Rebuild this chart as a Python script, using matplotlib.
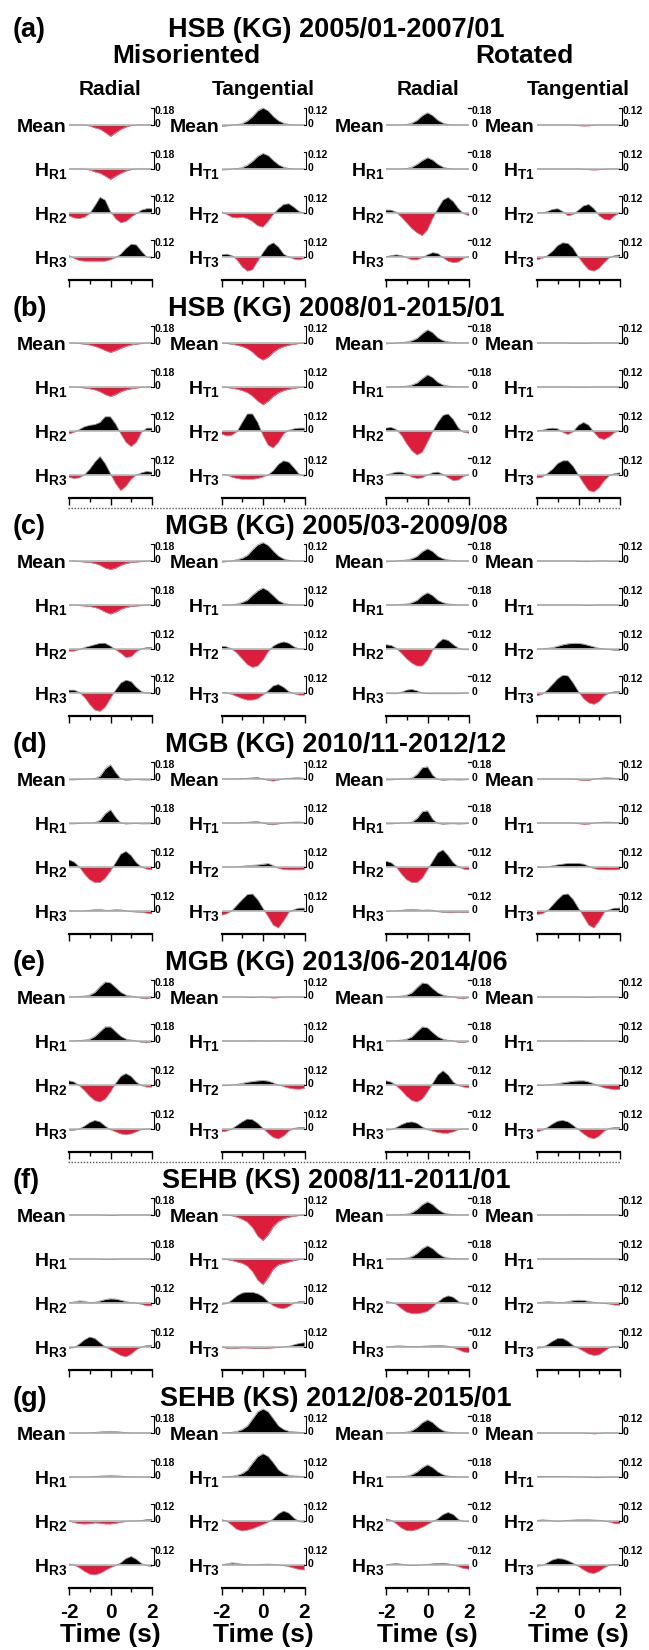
import numpy as np
import matplotlib.pyplot as plt
from matplotlib.lines import Line2D

plt.rcParams['font.family'] = ['Liberation Sans', 'DejaVu Sans']
plt.rcParams['mathtext.fontset'] = 'custom'
plt.rcParams['mathtext.rm'] = 'Liberation Sans:bold'
plt.rcParams['mathtext.it'] = 'Liberation Sans:bold'
plt.rcParams['mathtext.bf'] = 'Liberation Sans:bold'

# time samples (s)
t_sec = [-2.0, -1.75, -1.5, -1.25, -1.0, -0.75, -0.5, -0.25, 0.0,
         0.25, 0.5, 0.75, 1.0, 1.25, 1.5, 1.75, 2.0]

panel_tags = ['(a)', '(b)', '(c)', '(d)', '(e)', '(f)', '(g)']
panel_titles = ['HSB (KG) 2005/01-2007/01', 'HSB (KG) 2008/01-2015/01',
                'MGB (KG) 2005/03-2009/08', 'MGB (KG) 2010/11-2012/12',
                'MGB (KG) 2013/06-2014/06', 'SEHB (KS) 2008/11-2011/01',
                'SEHB (KS) 2012/08-2015/01']
group_names = ['Misoriented', 'Rotated']
comp_names = ['Radial', 'Tangential', 'Radial', 'Tangential']
row_names_r = ['Mean', r'$\mathrm{H_{R1}}$', r'$\mathrm{H_{R2}}$', r'$\mathrm{H_{R3}}$']
row_names_t = ['Mean', r'$\mathrm{H_{T1}}$', r'$\mathrm{H_{T2}}$', r'$\mathrm{H_{T3}}$']
bar_radial = [0.18, 0.18, 0.12, 0.12]
bar_tang = [0.12, 0.12, 0.12, 0.12]
time_ticks = [-2, 0, 2]

# rows: Mean, H1, H2, H3 ; mr = misoriented radial, mt = misoriented tangential,
# rr = rotated radial, rt = rotated tangential
a_mr = [[0, 0, 0, 0, -0.01, -0.03, -0.045, -0.08, -0.12, -0.08, -0.045, -0.02, -0.005, 0, 0, 0, 0],
        [0, 0, 0, 0, -0.01, -0.03, -0.045, -0.075, -0.11, -0.075, -0.045, -0.02, -0.005, 0, 0, 0, 0],
        [-0.02, -0.035, -0.04, -0.03, -0.005, 0.05, 0.11, 0.09, 0.01, -0.04, -0.07, -0.06, -0.03, -0.005, 0.02, 0.03, 0.03],
        [0.01, -0.01, -0.025, -0.03, -0.03, -0.03, -0.03, -0.03, -0.02, -0.005, 0.02, 0.06, 0.09, 0.085, 0.04, 0.0, -0.01]]
a_mt = [[-0.01, -0.008, 0, 0.003, 0.01, 0.03, 0.06, 0.1, 0.12, 0.1, 0.06, 0.03, 0.012, 0.004, 0, 0, 0],
        [-0.008, -0.006, 0, 0.003, 0.01, 0.028, 0.055, 0.09, 0.11, 0.095, 0.06, 0.03, 0.012, 0.004, 0, 0, 0],
        [0.01, -0.01, -0.03, -0.035, -0.03, -0.04, -0.06, -0.09, -0.1, -0.06, -0.01, 0.03, 0.06, 0.065, 0.04, 0.01, 0.0],
        [0.015, 0.02, 0.01, -0.02, -0.07, -0.1, -0.09, -0.03, 0.03, 0.08, 0.1, 0.07, 0.02, 0.0, -0.015, -0.02, -0.01]]
a_rr = [[0, 0, 0, 0, 0.005, 0.02, 0.05, 0.1, 0.13, 0.1, 0.05, 0.02, 0.005, 0, 0, 0, 0],
        [0, 0, 0, 0, 0.005, 0.02, 0.05, 0.09, 0.12, 0.095, 0.05, 0.02, 0.005, 0, 0, 0, 0],
        [0.02, 0.02, 0.005, -0.03, -0.07, -0.11, -0.14, -0.16, -0.12, -0.04, 0.03, 0.09, 0.11, 0.08, 0.03, -0.005, -0.02],
        [0, 0.01, 0.015, 0.01, -0.005, -0.02, -0.02, -0.005, 0.015, 0.03, 0.025, -0.005, -0.03, -0.04, -0.035, -0.01, 0.005]]
a_rt = [[0, 0, 0, 0, 0, 0, 0, -0.002, -0.004, -0.006, -0.005, -0.002, 0, 0, 0, 0, 0],
        [0, 0, 0, 0, 0, 0, 0, 0, 0, -0.002, -0.004, -0.006, -0.004, -0.002, 0, 0, 0],
        [0, 0.0, 0.01, 0.025, 0.03, 0.01, -0.02, -0.01, 0.02, 0.05, 0.06, 0.03, -0.02, -0.045, -0.05, -0.02, 0.0],
        [-0.02, -0.01, 0.01, 0.04, 0.08, 0.1, 0.095, 0.06, 0.0, -0.05, -0.09, -0.1, -0.08, -0.04, -0.005, 0.01, 0.015]]

b_mr = [[0, 0, -0.005, -0.012, -0.02, -0.035, -0.055, -0.08, -0.1, -0.08, -0.055, -0.035, -0.02, -0.012, -0.005, 0, 0],
        [0, 0, -0.003, -0.01, -0.018, -0.03, -0.05, -0.08, -0.1, -0.08, -0.05, -0.03, -0.018, -0.01, -0.003, 0, 0],
        [-0.02, -0.01, 0.01, 0.03, 0.04, 0.045, 0.06, 0.1, 0.1, 0.05, -0.02, -0.08, -0.11, -0.08, -0.01, 0.02, 0.02],
        [-0.015, -0.025, -0.02, 0.0, 0.04, 0.09, 0.13, 0.08, 0.01, -0.06, -0.11, -0.08, -0.03, 0.0, 0.015, 0.025, 0.02]]
b_mt = [[0, -0.003, -0.008, -0.015, -0.025, -0.04, -0.065, -0.1, -0.12, -0.1, -0.065, -0.04, -0.025, -0.015, -0.008, -0.003, 0],
        [0, -0.003, -0.008, -0.015, -0.025, -0.04, -0.065, -0.1, -0.125, -0.1, -0.065, -0.04, -0.025, -0.015, -0.008, -0.003, 0],
        [-0.02, -0.035, -0.03, -0.005, 0.06, 0.12, 0.12, 0.06, -0.03, -0.1, -0.12, -0.08, -0.02, 0.005, 0.015, 0.02, 0.02],
        [0.005, 0.0, -0.015, -0.025, -0.03, -0.03, -0.03, -0.025, -0.015, 0.0, 0.03, 0.075, 0.1, 0.09, 0.05, 0.005, -0.01]]
b_rr = [[-0.01, -0.005, 0, 0.005, 0.012, 0.025, 0.05, 0.1, 0.14, 0.11, 0.055, 0.025, 0.012, 0.005, 0, 0, 0],
        [0, 0, 0, 0.004, 0.01, 0.022, 0.045, 0.09, 0.13, 0.1, 0.05, 0.022, 0.01, 0.004, 0, 0, 0],
        [0.02, 0.025, 0.01, -0.03, -0.09, -0.14, -0.17, -0.15, -0.08, -0.005, 0.06, 0.11, 0.12, 0.08, 0.02, -0.01, -0.015],
        [0.0, 0.01, 0.02, 0.02, 0.005, -0.015, -0.025, -0.02, 0.0, 0.015, 0.02, 0.005, -0.02, -0.04, -0.035, -0.01, 0.0]]
b_rt = [[0, 0, 0, 0, 0, 0, -0.001, -0.002, -0.002, -0.002, -0.001, 0, 0, 0, 0, 0, 0],
        [0, 0, 0, 0, 0, 0, 0, -0.001, -0.002, -0.002, -0.001, 0, 0, 0, 0, 0, 0],
        [0, 0.005, 0.015, 0.02, 0.015, -0.01, -0.025, -0.005, 0.04, 0.06, 0.04, -0.01, -0.05, -0.06, -0.04, -0.01, 0.0],
        [-0.02, -0.015, 0.01, 0.04, 0.08, 0.1, 0.1, 0.06, 0.0, -0.06, -0.11, -0.12, -0.09, -0.04, -0.005, 0.01, 0.015]]

c_mr = [[0, 0, -0.005, -0.01, -0.015, -0.025, -0.045, -0.075, -0.09, -0.075, -0.045, -0.025, -0.015, -0.01, -0.005, 0, 0],
        [0, 0, -0.005, -0.01, -0.015, -0.025, -0.045, -0.075, -0.095, -0.075, -0.045, -0.025, -0.015, -0.01, -0.005, 0, 0],
        [-0.015, -0.015, -0.005, 0.01, 0.02, 0.03, 0.04, 0.04, 0.02, -0.005, -0.03, -0.06, -0.055, -0.02, 0.0, 0.01, 0.01],
        [0.02, 0.02, 0.005, -0.03, -0.08, -0.12, -0.13, -0.1, -0.04, 0.02, 0.07, 0.09, 0.08, 0.04, 0.01, 0.0, 0.0]]
c_mt = [[-0.01, -0.005, 0.0, 0.01, 0.02, 0.04, 0.08, 0.115, 0.13, 0.11, 0.07, 0.035, 0.015, 0.005, 0, 0, 0],
        [0, 0, 0.0, 0.008, 0.018, 0.035, 0.07, 0.1, 0.12, 0.1, 0.065, 0.03, 0.012, 0.004, 0, 0, 0],
        [0.02, 0.015, 0.0, -0.03, -0.07, -0.11, -0.13, -0.12, -0.08, -0.02, 0.02, 0.04, 0.05, 0.04, 0.015, 0.0, 0.0],
        [0.005, 0.0, -0.01, -0.025, -0.04, -0.05, -0.05, -0.04, -0.015, 0.015, 0.05, 0.06, 0.04, 0.01, -0.005, -0.015, -0.015]]
c_rr = [[-0.01, -0.005, 0, 0.005, 0.012, 0.025, 0.05, 0.1, 0.13, 0.1, 0.05, 0.025, 0.012, 0.005, 0, 0, 0],
        [0, 0, 0, 0.005, 0.012, 0.025, 0.05, 0.1, 0.13, 0.1, 0.05, 0.025, 0.012, 0.005, 0, 0, 0],
        [0.03, 0.025, 0.005, -0.03, -0.07, -0.1, -0.12, -0.12, -0.08, -0.01, 0.04, 0.07, 0.06, 0.03, 0.005, -0.005, -0.005],
        [0, -0.005, -0.005, 0.005, 0.02, 0.025, 0.015, 0.0, -0.005, -0.005, -0.005, -0.005, -0.005, -0.005, -0.005, 0.0, 0.0]]
c_rt = [[0, 0, 0, 0, 0, 0, 0, 0, -0.002, -0.004, -0.004, -0.002, 0, 0, -0.002, -0.003, 0],
        [0, 0, 0, 0, 0, 0, 0, 0, 0, -0.002, -0.003, -0.002, 0, 0, 0, 0, 0],
        [0, 0, 0.005, 0.01, 0.02, 0.03, 0.037, 0.04, 0.04, 0.035, 0.025, 0.015, 0.005, 0.0, -0.005, -0.01, -0.01],
        [-0.02, -0.01, 0.02, 0.06, 0.1, 0.125, 0.12, 0.07, 0.01, -0.04, -0.07, -0.08, -0.06, -0.02, 0.0, 0.01, 0.01]]

d_mr = [[-0.01, -0.01, -0.005, 0, 0, 0.005, 0.03, 0.11, 0.15, 0.07, 0.0, -0.015, -0.01, -0.005, -0.01, -0.012, -0.01],
        [-0.01, -0.01, -0.005, 0, 0, 0.005, 0.03, 0.1, 0.14, 0.06, 0.0, -0.012, -0.008, -0.005, -0.01, -0.01, -0.008],
        [0.05, 0.035, 0.0, -0.05, -0.09, -0.11, -0.11, -0.08, -0.03, 0.03, 0.09, 0.11, 0.08, 0.03, 0.0, -0.015, -0.02],
        [0, 0, 0, 0, 0.005, 0.01, 0.012, 0.005, 0.005, 0.01, 0.008, 0, -0.005, -0.008, -0.01, -0.015, -0.02]]
d_mt = [[0, 0, 0, 0, 0.002, 0.005, 0.008, 0.01, 0, -0.01, -0.015, -0.008, 0, 0.005, 0.008, 0.008, 0.005],
        [0, 0, 0, 0, 0.002, 0.005, 0.008, 0.01, 0, -0.01, -0.013, -0.007, 0, 0.004, 0.007, 0.007, 0.004],
        [0, 0, 0, 0, 0.005, 0.01, 0.012, 0.015, 0.02, 0.025, 0.01, -0.01, -0.018, -0.02, -0.02, -0.02, -0.018],
        [-0.03, -0.02, 0.0, 0.04, 0.08, 0.115, 0.12, 0.08, 0.02, -0.04, -0.1, -0.12, -0.07, -0.01, 0.01, 0.02, 0.02]]
d_rr = [[-0.01, -0.01, -0.005, 0, 0, 0.01, 0.05, 0.12, 0.13, 0.04, -0.005, -0.015, -0.01, -0.008, -0.012, -0.01, -0.005],
        [-0.01, -0.01, -0.005, 0, 0, 0.01, 0.05, 0.12, 0.13, 0.04, -0.005, -0.015, -0.01, -0.008, -0.012, -0.01, -0.005],
        [0.04, 0.03, 0.0, -0.05, -0.09, -0.11, -0.11, -0.08, -0.02, 0.04, 0.1, 0.12, 0.08, 0.03, 0.0, -0.015, -0.02],
        [-0.005, 0, 0, 0.005, 0.01, 0.012, 0.01, 0.005, 0.008, 0.005, -0.005, -0.01, -0.012, -0.012, -0.01, -0.012, -0.01]]
d_rt = [[0, 0, 0, 0, 0, 0, 0, 0, -0.005, -0.01, -0.008, 0, 0.004, 0.008, 0.008, 0.005, 0.003],
        [0, 0, 0, 0, 0, 0, 0, 0, -0.004, -0.008, -0.006, 0, 0.003, 0.006, 0.006, 0.004, 0.002],
        [0, -0.003, 0, 0.008, 0.015, 0.02, 0.025, 0.025, 0.025, 0.02, 0.005, -0.012, -0.018, -0.02, -0.02, -0.02, -0.018],
        [-0.025, -0.02, 0.0, 0.04, 0.08, 0.115, 0.12, 0.08, 0.02, -0.04, -0.1, -0.12, -0.07, -0.01, 0.01, 0.02, 0.02]]

e_mr = [[0, 0, 0.005, 0.01, 0.02, 0.05, 0.11, 0.16, 0.15, 0.1, 0.05, 0.02, 0.01, 0.0, -0.015, -0.02, -0.01],
        [0, 0, 0.005, 0.01, 0.02, 0.05, 0.1, 0.15, 0.15, 0.1, 0.05, 0.02, 0.01, 0.0, -0.015, -0.02, -0.01],
        [0.03, 0.02, -0.005, -0.04, -0.08, -0.11, -0.12, -0.1, -0.05, 0.01, 0.06, 0.08, 0.06, 0.02, -0.005, -0.015, -0.015],
        [-0.01, -0.01, 0.0, 0.02, 0.045, 0.06, 0.05, 0.02, -0.005, -0.02, -0.035, -0.04, -0.035, -0.02, -0.005, 0.0, 0.0]]
e_mt = [[0, 0, 0, 0, 0, -0.003, -0.004, -0.002, 0, -0.003, -0.006, -0.004, 0, 0, 0, 0, 0],
        [0, 0, 0, 0, 0, 0.001, 0.001, 0.001, 0, 0, 0, 0.001, 0.001, 0, 0, 0, 0],
        [-0.005, -0.005, 0.0, 0.005, 0.012, 0.02, 0.025, 0.03, 0.032, 0.028, 0.015, 0.0, -0.012, -0.022, -0.028, -0.03, -0.025],
        [-0.02, -0.015, 0.0, 0.025, 0.05, 0.07, 0.065, 0.04, 0.005, -0.03, -0.06, -0.07, -0.05, -0.015, 0.005, 0.01, 0.01]]
e_rr = [[0, 0, 0.004, 0.01, 0.02, 0.045, 0.1, 0.15, 0.14, 0.09, 0.045, 0.02, 0.008, 0.0, -0.015, -0.02, -0.005],
        [0, 0, 0.004, 0.01, 0.02, 0.045, 0.1, 0.15, 0.14, 0.09, 0.045, 0.02, 0.008, 0.0, -0.015, -0.018, -0.005],
        [0.03, 0.02, -0.005, -0.04, -0.08, -0.11, -0.12, -0.1, -0.05, 0.01, 0.07, 0.1, 0.07, 0.02, -0.005, -0.015, -0.02],
        [-0.008, -0.005, 0.01, 0.03, 0.045, 0.05, 0.04, 0.015, -0.005, -0.015, -0.025, -0.03, -0.03, -0.02, -0.005, 0.0, 0.0]]
e_rt = [[0, 0, 0, 0, 0, 0, 0, 0, 0, -0.002, -0.004, -0.002, 0, 0, 0, 0, 0],
        [0, 0, 0, 0, 0, 0, 0.001, 0.001, 0.001, 0, 0, 0, 0, 0, 0, 0, 0],
        [-0.003, -0.003, 0.0, 0.004, 0.01, 0.016, 0.022, 0.027, 0.03, 0.03, 0.022, 0.008, -0.008, -0.02, -0.028, -0.032, -0.03],
        [-0.02, -0.01, 0.01, 0.035, 0.055, 0.06, 0.05, 0.025, -0.005, -0.035, -0.06, -0.07, -0.05, -0.015, 0.005, 0.01, 0.01]]

f_mr = [[0, 0, 0, 0, 0, 0, 0, -0.003, -0.005, -0.004, 0, 0, 0, 0, 0, 0, 0],
        [0, 0, 0, 0, 0, 0, -0.002, -0.004, -0.004, -0.003, 0, 0, 0, 0, 0, 0, 0],
        [0.0, 0.008, 0.015, 0.012, 0.003, 0.005, 0.015, 0.025, 0.03, 0.028, 0.02, 0.01, 0.003, 0.0, -0.01, -0.02, -0.02],
        [-0.01, -0.005, 0.02, 0.05, 0.07, 0.06, 0.03, 0.0, -0.02, -0.04, -0.06, -0.07, -0.05, -0.02, 0.0, 0.01, 0.01]]
f_mt = [[0, 0, -0.005, -0.015, -0.03, -0.05, -0.09, -0.15, -0.18, -0.14, -0.08, -0.045, -0.025, -0.015, -0.008, -0.003, 0],
        [0, -0.003, -0.01, -0.02, -0.03, -0.05, -0.09, -0.15, -0.18, -0.13, -0.07, -0.04, -0.03, -0.02, -0.01, -0.003, 0],
        [-0.01, -0.005, 0.02, 0.05, 0.07, 0.075, 0.075, 0.065, 0.045, 0.01, -0.02, -0.035, -0.04, -0.025, 0.0, 0.01, 0.01],
        [0.0, -0.008, -0.01, -0.008, -0.005, -0.006, -0.008, -0.01, -0.01, -0.008, -0.005, -0.003, 0.0, 0.005, 0.015, 0.025, 0.03]]
f_rr = [[0, 0, 0, 0.004, 0.01, 0.025, 0.06, 0.11, 0.14, 0.11, 0.06, 0.025, 0.01, 0.004, 0, 0, 0],
        [0, 0, 0, 0.004, 0.01, 0.025, 0.06, 0.11, 0.14, 0.11, 0.06, 0.025, 0.01, 0.004, 0, 0, 0],
        [0.01, 0.005, -0.01, -0.04, -0.065, -0.075, -0.075, -0.07, -0.06, -0.03, 0.005, 0.035, 0.05, 0.04, 0.01, -0.005, -0.01],
        [0.0, 0.003, 0.008, 0.008, 0.004, 0.002, 0.003, 0.005, 0.008, 0.01, 0.012, 0.01, 0.005, -0.005, -0.02, -0.035, -0.04]]
f_rt = [[0, 0, 0, 0, 0, 0, 0, 0.001, 0.001, 0, 0, 0, 0, 0, 0, 0, 0],
        [0, 0, 0, 0, 0, 0, 0, 0, 0.001, 0.001, 0, 0, 0, 0, 0, 0, 0],
        [0, 0.005, 0.01, 0.008, 0.002, 0.003, 0.01, 0.017, 0.02, 0.018, 0.012, 0.005, 0.0, -0.003, -0.008, -0.015, -0.015],
        [-0.01, -0.005, 0.015, 0.04, 0.06, 0.06, 0.04, 0.01, -0.01, -0.03, -0.05, -0.06, -0.055, -0.03, -0.005, 0.005, 0.005]]

g_mr = [[0, 0, 0, 0, 0.002, 0.006, 0.012, 0.016, 0.018, 0.016, 0.01, 0.004, 0, 0, 0, 0, 0],
        [0, 0, 0, 0, 0.002, 0.005, 0.01, 0.013, 0.015, 0.013, 0.009, 0.004, 0, 0, 0, 0, 0],
        [0.0, -0.01, -0.018, -0.02, -0.018, -0.012, -0.015, -0.02, -0.02, -0.015, -0.008, -0.002, 0.0, 0.0, 0.003, 0.01, 0.012],
        [0.008, 0.0, -0.02, -0.045, -0.065, -0.07, -0.06, -0.04, -0.02, -0.005, 0.015, 0.045, 0.06, 0.04, 0.01, -0.005, -0.012]]
g_mt = [[0, 0.002, 0.005, 0.012, 0.025, 0.05, 0.1, 0.15, 0.17, 0.15, 0.1, 0.05, 0.025, 0.012, 0.008, 0.005, 0.003],
        [0, 0.002, 0.005, 0.012, 0.025, 0.05, 0.1, 0.145, 0.165, 0.145, 0.1, 0.05, 0.025, 0.012, 0.008, 0.005, 0.003],
        [0.01, 0.0, -0.03, -0.06, -0.07, -0.065, -0.055, -0.04, -0.025, -0.01, 0.015, 0.05, 0.07, 0.055, 0.02, -0.005, -0.01],
        [0.0, 0.008, 0.015, 0.012, 0.005, 0.002, 0.0, 0.002, 0.005, 0.006, 0.004, 0.0, -0.005, -0.012, -0.022, -0.032, -0.035]]
g_rr = [[0, 0, 0, 0.004, 0.01, 0.025, 0.06, 0.11, 0.14, 0.11, 0.06, 0.025, 0.01, 0.004, 0, 0, 0],
        [0, 0, 0, 0.004, 0.01, 0.025, 0.055, 0.1, 0.13, 0.1, 0.055, 0.025, 0.01, 0.004, 0, 0, 0],
        [0.015, 0.005, -0.02, -0.05, -0.068, -0.07, -0.06, -0.045, -0.025, -0.005, 0.015, 0.045, 0.06, 0.045, 0.01, -0.003, -0.005],
        [0.0, 0.007, 0.01, 0.006, 0.0, -0.004, -0.003, 0.0, 0.004, 0.008, 0.011, 0.012, 0.008, 0.0, -0.012, -0.025, -0.03]]
g_rt = [[0, 0, 0, 0, 0, 0, 0, 0, 0, 0, -0.003, -0.005, -0.003, 0, 0, 0, 0],
        [0.003, 0.003, 0.003, 0.003, 0.003, 0.003, 0.002, 0.001, 0, 0, -0.002, -0.004, -0.004, -0.002, 0, 0, 0],
        [0.004, 0.008, 0.006, 0.0, -0.002, 0.0, 0.004, 0.007, 0.008, 0.008, 0.008, 0.007, 0.005, 0.0, -0.008, -0.018, -0.02],
        [-0.01, -0.003, 0.015, 0.035, 0.045, 0.042, 0.03, 0.012, -0.01, -0.035, -0.055, -0.06, -0.045, -0.02, 0.0, 0.005, 0.005]]

panels = [[a_mr, a_mt, a_rr, a_rt], [b_mr, b_mt, b_rr, b_rt],
          [c_mr, c_mt, c_rr, c_rt], [d_mr, d_mt, d_rr, d_rt],
          [e_mr, e_mt, e_rr, e_rt], [f_mr, f_mt, f_rr, f_rt],
          [g_mr, g_mt, g_rr, g_rt]]

# layout in pixels (from top-left)
W, H = 649, 1650
fig = plt.figure(figsize=(W / 100, H / 100), dpi=100)


def fx(x):
    return x / W


def fy(y):
    return 1 - y / H


col_x0 = [69, 221.5, 386, 537]
col_w = 83
bar_px = 17
red = '#DC1E3C'
t = np.array(t_sec)
sx = 4 / col_w

# headers
fig.text(fx(336), fy(37), panel_titles[0], fontsize=19.5, fontweight='bold', ha='center', va='baseline')
for name, xc in zip(group_names, [186, 524]):
    fig.text(fx(xc), fy(63), name, fontsize=19, fontweight='bold', ha='center', va='baseline')
for name, x0 in zip(comp_names, col_x0):
    fig.text(fx(x0 + col_w / 2), fy(95), name, fontsize=15, fontweight='bold', ha='center', va='baseline')

for p in range(7):
    y_mean = 125 + 218 * p
    y_title = 37 if p == 0 else y_mean - 27
    fig.text(fx(13), fy(y_title), panel_tags[p], fontsize=19.5, fontweight='bold', ha='left', va='baseline')
    if p > 0:
        fig.text(fx(336), fy(y_title), panel_titles[p], fontsize=19.5, fontweight='bold',
                 ha='center', va='baseline')

    y_axis = y_mean + 155
    for c in range(4):
        bars = bar_radial if c % 2 == 0 else bar_tang
        names = row_names_r if c % 2 == 0 else row_names_t
        for r in range(4):
            yb = y_mean + 44 * r
            s = bars[r]
            k = s / bar_px
            ax = fig.add_axes([fx(col_x0[c]), fy(yb + 30), col_w / W, 60 / H])
            ax.set_xlim(-2, 2)
            ax.set_ylim(-30 * k, 30 * k)
            ax.axis('off')
            y = np.array(panels[p][c][r])
            ax.plot([-2, 2], [0, 0], color='#bcbcbc', lw=1.3)
            ax.plot(t, y, color='#9a9a9a', lw=0.6)
            ax.fill_between(t, y, 0, where=y >= 0, interpolate=True, color='black', lw=0)
            ax.fill_between(t, y, 0, where=y <= 0, interpolate=True, color=red, lw=0)
            # scale bar
            xb = 2 + 1.5 * sx
            if c == 2:
                ax.plot([xb - 2.5 * sx, xb], [s, s], color='black', lw=0.9, clip_on=False)
            else:
                ax.plot([xb - 2.5 * sx, xb, xb, xb - 2.5 * sx], [s, s, 0, 0],
                        color='black', lw=0.8, clip_on=False)
            ax.text(xb + 1.5 * sx, s - 3.5 * k, '%.2f' % s, fontsize=7.5, fontweight='bold',
                    ha='left', va='center', clip_on=False)
            ax.text(xb + 1.5 * sx, 1.0 * k, '0', fontsize=7.5, fontweight='bold',
                    ha='left', va='center', clip_on=False)
            fig.text(fx(col_x0[c] - 2), fy(yb + 7), names[r], fontsize=14,
                     fontweight='bold', ha='right', va='baseline')

        # time axis
        tax = fig.add_axes([fx(col_x0[c]), fy(y_axis), col_w / W, 0.0001])
        tax.set_xlim(-2, 2)
        for sp in ['top', 'left', 'right']:
            tax.spines[sp].set_visible(False)
        tax.spines['bottom'].set_linewidth(1.6)
        tax.set_yticks([])
        tax.set_xticks(time_ticks)
        tax.set_xticks([-1, 1], minor=True)
        tax.tick_params(axis='x', which='major', direction='out', length=5, width=1.0, pad=6)
        tax.tick_params(axis='x', which='minor', direction='out', length=3, width=1.0)
        if p == 6:
            tax.set_xticklabels([str(v) for v in time_ticks], fontsize=15, fontweight='bold')
            fig.text(fx(col_x0[c] + col_w / 2), fy(1642), 'Time (s)', fontsize=19,
                     fontweight='bold', ha='center', va='baseline')
        else:
            tax.set_xticklabels([])

    if p in (1, 4):
        fig.add_artist(Line2D([fx(68), fx(620)], [fy(y_axis + 9.5), fy(y_axis + 9.5)],
                              transform=fig.transFigure, color='#555555', lw=1.0,
                              linestyle=(0, (1, 1.2))))

fig.savefig('out.png', dpi=100)
